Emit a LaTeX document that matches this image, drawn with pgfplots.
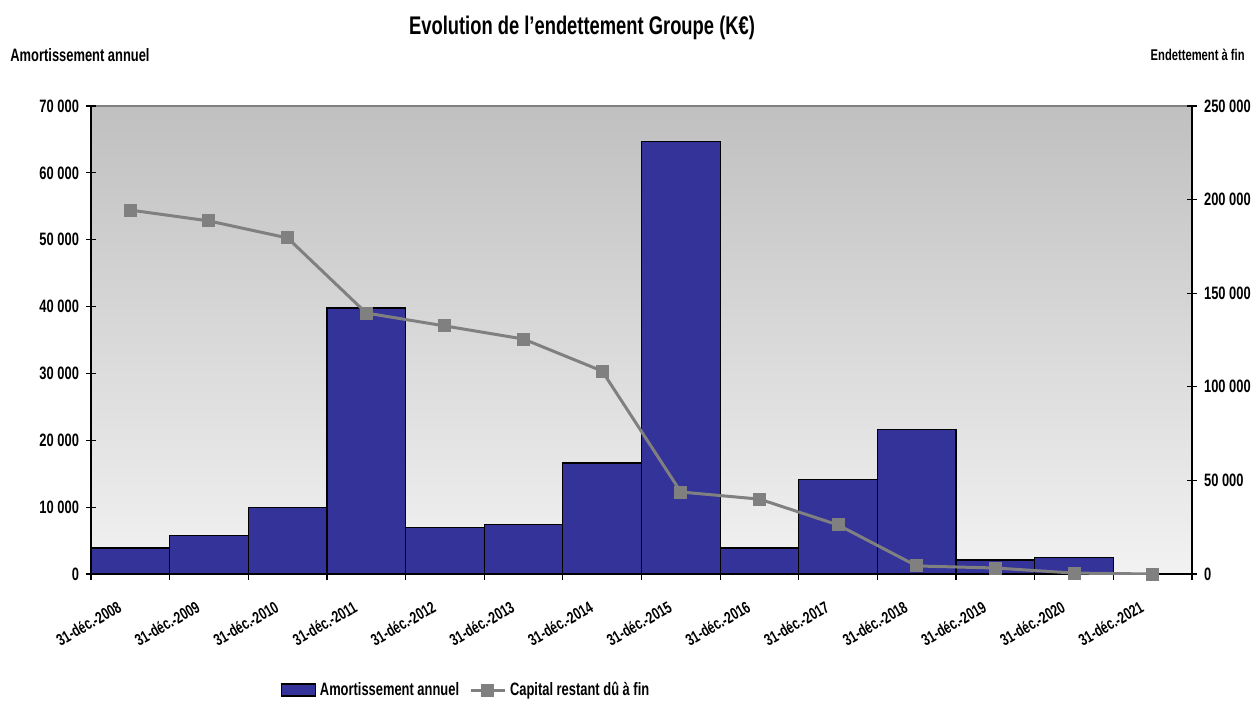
\documentclass[border=0pt]{standalone}
\usepackage{fontspec}
\setmainfont{Liberation Sans}[FakeStretch=0.72]
\usepackage{pgfplots}
\pgfplotsset{compat=1.18}
\definecolor{barblue}{HTML}{333399}
\definecolor{linegray}{HTML}{808080}
\definecolor{bgtop}{HTML}{C0C0C0}
\definecolor{bgbot}{HTML}{F2F2F2}
\newcommand{\tickfont}{\fontsize{9}{10}\selectfont\bfseries}
\newcommand{\xlabfont}{\fontsize{8.3}{9}\selectfont\bfseries}
\begin{document}
\begin{tikzpicture}[x=1bp,y=1bp]
\path[use as bounding box] (0,0) rectangle (626,351);
\begin{axis}[
  at={(45.5bp,64bp)}, anchor=south west,
  scale only axis, width=550.5bp, height=234bp,
  xmin=-0.5, xmax=13.5, ymin=0, ymax=70000,
  axis x line*=bottom, axis y line*=left,
  axis line style={black, line width=0.6bp, -},
  axis background/.style={top color=bgtop, bottom color=bgbot, draw=linegray, line width=0.8bp},
  ytick={0,10000,...,70000},
  scaled y ticks=false,
  yticklabel style={/pgf/number format/fixed, /pgf/number format/1000 sep={\ }, /pgf/number format/assume math mode=true, font=\tickfont},
  xtick={0,...,13},
  xticklabels={31-déc.-2008,31-déc.-2009,31-déc.-2010,31-déc.-2011,31-déc.-2012,31-déc.-2013,31-déc.-2014,31-déc.-2015,31-déc.-2016,31-déc.-2017,31-déc.-2018,31-déc.-2019,31-déc.-2020,31-déc.-2021},
  xticklabel style={xshift=-6.5bp, yshift=-9bp, rotate=30, anchor=north east, font=\xlabfont, inner sep=1bp},
  major x tick style={draw=none},
  minor xtick={-0.5,0.5,...,13.5},
  minor x tick style={black, line width=0.6bp, yshift=-1.5bp},
  minor tick length=3bp,
  tick align=center,
  major tick length=5bp,
  y tick style={black, line width=0.6bp},
  legend style={at={(0.3415,-0.248)}, anchor=center, draw=none, fill=none, font=\tickfont, legend columns=2, /tikz/every even column/.append style={column sep=3bp}},
]
\addplot[ybar, bar width=1, fill=barblue, draw=black, line width=0.6bp, area legend,
  legend image code/.code={\draw[fill=barblue, draw=black, line width=0.6bp] (0bp,-3bp) rectangle (17bp,3bp);}]
  coordinates {(0,3900) (1,5800) (2,9900) (3,39800) (4,7000) (5,7450) (6,16600) (7,64700) (8,3900) (9,14100) (10,21650) (11,2100) (12,2500) (13,0)};
\addlegendentry{Amortissement annuel}
\addlegendimage{legend image code/.code={\draw[linegray, line width=1.5bp] (0bp,0bp) -- (17bp,0bp); \fill[linegray] (5.5bp,-3bp) rectangle (11.5bp,3bp);}}
\addlegendentry{Capital restant dû à fin}
\end{axis}
\begin{axis}[
  at={(45.5bp,64bp)}, anchor=south west,
  scale only axis, width=550.5bp, height=234bp,
  xmin=-0.5, xmax=13.5, ymin=0, ymax=250000,
  axis x line=none, axis y line*=right,
  axis line style={black, line width=0.6bp, -},
  ytick={0,50000,...,250000},
  scaled y ticks=false,
  yticklabel style={/pgf/number format/fixed, /pgf/number format/1000 sep={\ }, /pgf/number format/assume math mode=true, font=\tickfont},
  tick align=center,
  major tick length=5bp,
  y tick style={black, line width=0.6bp},
]
\addplot[linegray, line width=1.5bp, mark=square*, mark size=3bp, mark options={fill=linegray, draw=linegray, line width=0bp}]
  coordinates {(0,194400) (1,188600) (2,179500) (3,139400) (4,132500) (5,125500) (6,108400) (7,43800) (8,40000) (9,26200) (10,4300) (11,3200) (12,500) (13,0)};
\end{axis}
\node[font=\fontsize{12.8}{14}\selectfont\bfseries] at (291,337) {Evolution de l'endettement Groupe (K€)};
\node[font=\tickfont, anchor=west, inner sep=0pt] at (5,323.5) {Amortissement annuel};
\node[font=\fontsize{7.8}{9}\selectfont\bfseries, anchor=east, inner sep=0pt] at (622.5,323.5) {Endettement à fin};
\end{tikzpicture}
\end{document}
